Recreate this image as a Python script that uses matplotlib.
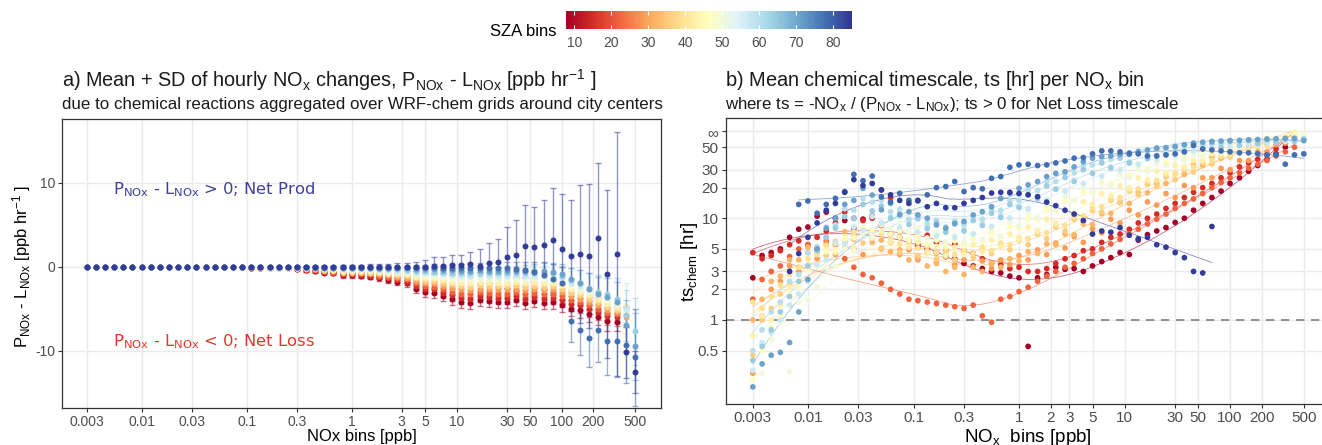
import numpy as np
import matplotlib
matplotlib.use("Agg")
import matplotlib.pyplot as plt
from matplotlib import cm, colors
from numpy import nan

plt.rcParams["font.family"] = ["Liberation Sans Narrow", "Liberation Sans", "DejaVu Sans"]
plt.rcParams["mathtext.fontset"] = "custom"
plt.rcParams["mathtext.rm"] = "Liberation Sans"
plt.rcParams["mathtext.it"] = "Liberation Sans:italic"
plt.rcParams["mathtext.bf"] = "Liberation Sans:bold"
plt.rcParams["mathtext.default"] = "regular"

# NOx bin centres [ppb]
nox_bins = [0.003, 0.00367, 0.00448, 0.00547, 0.00669, 0.00817, 0.00998, 0.0122, 0.0149, 0.0182,
            0.0223, 0.0272, 0.0332, 0.0406, 0.0496, 0.0606, 0.0740, 0.0904, 0.110, 0.135,
            0.165, 0.202, 0.246, 0.301, 0.368, 0.449, 0.549, 0.671, 0.819, 1.00,
            1.22, 1.50, 1.83, 2.23, 2.73, 3.33, 4.07, 4.97, 6.08, 7.42,
            9.07, 11.1, 13.5, 16.5, 20.2, 24.7, 30.2, 36.9, 45.1, 55.1,
            67.3, 82.2, 100, 123, 150, 183, 224, 273, 334, 408, 500]

sza_bins = [8, 15, 22, 29, 36, 43, 50, 57, 64, 71, 78, 84]
sza_ts_bins = [8, 15, 22, 29, 32, 36, 39, 43, 46, 50, 57, 60, 64, 71, 78, 84]

# mean P-L [ppb/hr], bins 18..61 (first 17 bins are 0)
pl_08 = [0.0, -0.1, -0.1, -0.2, -0.2, -0.2, -0.3, -0.4, -0.5, -0.7, -0.8, -1.0, -1.0, -1.1, -1.2, -1.4, -1.6, -1.8, -2.0,
         -2.6, -3.0, -3.1, -3.5, -3.9, -4.2, -4.3, -4.0, -4.1, -4.2, -4.2, -4.0, -4.3, -4.1, -4.3, -4.2,
         -4.6, -5.0, -5.2, -5.6, -6.0, -6.5, -6.6, nan, nan]
pl_15 = [0.0, -0.1, -0.1, -0.2, -0.2, -0.2, -0.3, -0.4, -0.4, -0.6, -0.7, -0.9, -0.9, -1.0, -1.1, -1.2, -1.4, -1.6, -1.8,
         -2.3, -2.6, -2.7, -3.1, -3.4, -3.7, -3.8, -3.5, -3.6, -3.7, -3.7, -3.5, -3.8, -3.6, -3.8, -3.7,
         -4.0, -4.4, -4.6, -5.0, -5.4, -5.9, -6.0, nan, nan]
pl_22 = [0.0, -0.1, -0.1, -0.2, -0.2, -0.2, -0.2, -0.3, -0.4, -0.5, -0.6, -0.8, -0.8, -0.8, -0.9, -1.1, -1.2, -1.4, -1.5,
         -2.0, -2.3, -2.4, -2.7, -3.0, -3.2, -3.3, -3.0, -3.1, -3.2, -3.2, -3.0, -3.3, -3.1, -3.3, -3.2,
         -3.5, -4.0, -4.2, -4.6, -5.0, -5.5, -5.6, nan, nan]
pl_29 = [0.0, -0.1, -0.1, -0.1, -0.1, -0.1, -0.2, -0.3, -0.3, -0.5, -0.5, -0.7, -0.7, -0.7, -0.8, -0.9, -1.0, -1.2, -1.3,
         -1.7, -2.0, -2.0, -2.3, -2.5, -2.7, -2.8, -2.6, -2.7, -2.7, -2.7, -2.6, -2.8, -2.7, -2.8, -2.7,
         -3.0, -3.5, -3.8, -4.2, -4.6, -5.2, -5.4, -6.0, nan]
pl_36 = [0.0, 0.0, -0.1, -0.1, -0.1, -0.1, -0.2, -0.2, -0.3, -0.4, -0.4, -0.6, -0.6, -0.6, -0.7, -0.8, -0.9, -1.0, -1.1,
         -1.4, -1.7, -1.7, -1.9, -2.1, -2.3, -2.4, -2.2, -2.3, -2.3, -2.3, -2.2, -2.4, -2.3, -2.4, -2.3,
         -2.6, -3.1, -3.4, -3.8, -4.2, -4.8, -5.1, -5.8, nan]
pl_43 = [0.0, 0.0, 0.0, -0.1, -0.1, -0.1, -0.1, -0.2, -0.2, -0.3, -0.4, -0.5, -0.5, -0.5, -0.5, -0.6, -0.7, -0.8, -0.9,
         -1.2, -1.4, -1.4, -1.6, -1.8, -1.9, -1.9, -1.8, -1.8, -1.9, -1.9, -1.8, -1.9, -1.8, -1.9, -1.9,
         -2.2, -2.7, -3.0, -3.4, -3.8, -4.4, -4.8, -5.6, nan]
pl_50 = [0.0, 0.0, 0.0, -0.1, -0.1, -0.1, -0.1, -0.1, -0.2, -0.2, -0.3, -0.4, -0.4, -0.4, -0.4, -0.5, -0.6, -0.6, -0.7,
         -0.9, -1.1, -1.1, -1.2, -1.4, -1.5, -1.5, -1.4, -1.4, -1.5, -1.5, -1.4, -1.5, -1.4, -1.5, -1.5,
         -1.8, -2.3, -2.6, -3.0, -3.3, -4.0, -4.4, -5.2, nan]
pl_57 = [0.0, 0.0, 0.0, -0.1, -0.1, 0.0, -0.1, -0.1, -0.1, -0.2, -0.2, -0.3, -0.3, -0.3, -0.3, -0.4, -0.4, -0.5, -0.5,
         -0.7, -0.8, -0.8, -0.9, -1.0, -1.1, -1.1, -1.0, -1.1, -1.1, -1.1, -1.0, -1.1, -1.1, -1.1, -1.1,
         -1.4, -1.9, -2.3, -2.7, -3.1, -3.6, -4.0, -5.0, nan]
pl_64 = [0.0, 0.0, 0.0, 0.0, 0.0, 0.0, 0.0, -0.1, -0.1, -0.1, -0.1, -0.2, -0.2, -0.2, -0.2, -0.3, -0.3, -0.3, -0.4,
         -0.5, -0.5, -0.6, -0.6, -0.7, -0.8, -0.8, -0.7, -0.7, -0.8, -0.8, -0.7, -0.8, -0.7, -0.8, -0.8,
         -1.1, -1.6, -2.0, -2.5, -3.0, -3.3, -3.8, -5.8, -7.7]
pl_71 = [0.0, 0.0, 0.0, 0.0, 0.0, 0.0, 0.0, 0.0, -0.1, -0.1, -0.1, -0.1, -0.1, -0.1, -0.1, -0.2, -0.2, -0.2, -0.2,
         -0.3, -0.3, -0.3, -0.4, -0.4, -0.5, -0.5, -0.4, -0.5, -0.5, -0.5, -0.5, -0.5, -0.5, -0.5, -0.6,
         -0.9, -1.5, -2.0, -2.6, -3.2, -3.6, -4.2, -7.0, -9.5]
pl_78 = [0.0, 0.0, 0.0, 0.0, 0.0, 0.0, 0.0, 0.0, 0.0, 0.0, 0.0, 0.0, 0.0, 0.0, 0.0, 0.0, 0.0, 0.0, 0.0,
         0.0, 0.0, 0.0, -0.1, -0.1, -0.1, -0.1, -0.1, -0.2, -0.2, -0.2, -0.3, -0.4, -0.6, -1.0, -1.5,
         -2.0, -6.5, -7.5, -8.5, -7.5, -8.9, -8.9, -9.3, -10.8]
pl_84 = [0.0, 0.0, 0.0, 0.0, 0.0, 0.0, 0.0, 0.0, 0.0, 0.0, 0.0, 0.0, 0.0, 0.0, 0.0, 0.0, 0.0, 0.0, 0.0,
         0.0, 0.0, 0.1, 0.1, 0.2, 0.2, 0.3, 0.1, 0.4, 0.5, 1.1, 1.4, 2.5, 2.3, 2.6, 3.2,
         2.1, 1.3, 1.5, 1.3, 3.4, -0.9, 1.5, -10.2, -12.5]

# SD of P-L, bins 18..61
sd_warm = [0.0, 0.1, 0.1, 0.1, 0.1, 0.1, 0.1, 0.2, 0.2, 0.2, 0.2, 0.3, 0.3, 0.3, 0.3, 0.3, 0.4, 0.4, 0.4,
           0.5, 0.6, 0.6, 0.6, 0.7, 0.7, 0.7, 0.7, 0.7, 0.7, 0.7, 0.7, 0.7, 0.7, 0.7, 0.8,
           0.8, 0.9, 0.9, 1.0, 1.0, 1.1, 1.1, 1.2, 1.2]
sd_cool = [0.0, 0.0, 0.0, 0.0, 0.0, 0.0, 0.0, 0.1, 0.1, 0.1, 0.1, 0.1, 0.1, 0.1, 0.1, 0.1, 0.1, 0.1, 0.1,
           0.2, 0.2, 0.3, 0.3, 0.3, 0.3, 0.4, 0.4, 0.5, 0.5, 0.6, 0.6, 0.7, 0.8, 0.9, 1.0,
           1.2, 1.4, 1.6, 1.8, 2.0, 2.2, 2.4, 3.0, 4.0]
sd_78 = [0.0, 0.0, 0.0, 0.0, 0.0, 0.0, 0.0, 0.1, 0.1, 0.1, 0.1, 0.1, 0.1, 0.1, 0.1, 0.1, 0.1, 0.1, 0.1,
         0.2, 0.2, 0.3, 0.3, 0.4, 0.4, 0.5, 0.5, 0.6, 0.7, 0.8, 0.9, 1.0, 1.2, 1.5, 1.8,
         2.0, 2.5, 3.0, 3.5, 3.8, 4.0, 4.2, 4.5, 5.8]
sd_84 = [0.0, 0.0, 0.0, 0.0, 0.0, 0.1, 0.1, 0.1, 0.1, 0.1, 0.1, 0.2, 0.2, 0.2, 0.3, 0.3, 0.3, 0.4, 0.4,
         0.5, 0.8, 1.0, 1.0, 1.2, 1.2, 1.4, 2.0, 2.4, 2.8, 3.6, 4.2, 4.8, 4.8, 5.3, 6.2,
         6.5, 6.6, 8.2, 8.6, 9.0, 10.0, 14.5, 3.0, 2.5]

# chemical timescale ts [hr], all 61 bins
ts_08 = [2.6, 4.3, 4.6, 5.0, 6.5, 7.8, 8.2, 10.5, 11.5, 10.0,
         9.5, 8.0, 9.8, 10.5, 8.5, 7.0, 6.5, 6.0, 5.2, 5.0,
         4.6, 4.2, 4.0, 3.6, 3.4, 3.2, 3.0, 2.9, 2.7, 2.6,
         0.55, 2.6, 2.8, 3.3, 3.15, 3.2, 3.0, 3.4, 3.75, 4.1,
         4.6, 4.4, 6.1, 6.9, 7.5, 8.1, 9.1, 10.0, 12.0, 14.0,
         16.0, 18.5, 22.0, 25.0, 29.0, 33.0, 38.0, 43.0, 50.0, nan, nan]
ts_15 = [4.6, 4.0, 4.3, 4.8, 5.5, 6.0, 5.5, 6.5, 7.5, 9.0,
         11.5, 10.0, 9.5, 10.0, 19.0, 16.0, 7.5, 6.0, 5.5, 6.8,
         5.8, 4.9, 5.6, 4.8, 4.5, 4.0, 3.6, 3.5, 3.2, 3.3,
         3.0, 3.0, 3.2, 3.6, 4.0, 4.3, 4.8, 5.0, 5.8, 6.5,
         7.0, 7.8, 9.0, 10.0, 11.0, 12.5, 14.0, 16.0, 18.0, 20.0,
         22.0, 25.0, 28.0, 32.0, 35.0, 38.0, 42.0, 48.0, 55.0, 60.0, nan]
ts_22 = [1.6, 2.5, 3.0, 3.4, 4.2, 5.0, 5.5, 5.0, 6.0, 5.5,
         4.0, 3.3, 2.8, 2.6, 2.3, 2.0, 1.8, 1.6, 1.55, 1.5,
         1.45, 1.4, 1.35, 1.3, 1.4, 1.1, 0.95, 1.6, 1.7, 1.9,
         2.1, 2.4, 2.7, 3.0, 3.3, 3.6, 4.0, 4.5, 5.0, 5.6,
         6.2, 7.0, 7.8, 8.8, 9.8, 11.0, 12.5, 14.0, 15.5, 17.5,
         20.0, 22.5, 25.0, 28.0, 31.0, 34.0, 37.0, 41.0, 45.0, 50.0, nan]
ts_29 = [0.3, 1.1, 2.0, 2.4, 3.4, 3.0, 4.6, 4.0, 5.6, 4.4,
         5.8, 5.0, 4.4, 6.4, 5.0, 5.8, 4.4, 4.9, 3.9, 4.6,
         3.7, 4.2, 3.5, 3.9, 3.3, 3.8, 3.2, 3.9, 3.5, 4.3,
         3.9, 4.9, 4.4, 5.7, 5.1, 6.6, 5.8, 7.9, 7.2, 9.8,
         9.0, 12.0, 10.8, 14.5, 13.5, 17.5, 16.0, 21.0, 20.0, 25.0,
         25.0, 31.0, 30.0, 37.0, 37.0, 45.0, 45.0, 53.0, 55.0, 62.0, nan]
ts_32 = [1.0, 1.6, 2.4, 2.7, 3.9, 3.9, 5.2, 4.9, 6.4, 5.9,
         7.4, 6.2, 7.8, 5.8, 6.1, 4.7, 4.9, 3.9, 4.1, 3.4,
         3.6, 3.0, 3.3, 2.8, 3.3, 3.0, 3.6, 3.3, 4.0, 3.8,
         4.7, 4.5, 5.6, 5.5, 7.0, 6.9, 8.8, 8.7, 11.1, 11.2,
         14.3, 14.0, 18.0, 17.8, 22.0, 22.0, 27.5, 27.0, 33.5, 33.0,
         40.0, 39.0, 46.0, 45.0, 52.0, 51.0, 58.0, 57.0, 63.0, 65.0, nan]
ts_36 = [0.45, 1.0, 1.3, 1.8, 2.2, 3.3, 3.2, 4.6, 4.3, 5.8,
         5.2, 6.6, 5.7, 6.6, 5.1, 5.8, 4.6, 5.2, 4.3, 4.8,
         4.0, 4.6, 3.9, 4.7, 4.1, 5.0, 4.5, 5.4, 4.9, 6.1,
         5.5, 7.0, 6.3, 8.2, 7.5, 9.8, 9.2, 12.0, 11.5, 15.0,
         14.3, 18.5, 17.0, 21.5, 20.5, 25.5, 24.0, 30.0, 28.5, 35.0,
         34.0, 41.0, 40.0, 47.0, 46.0, 54.0, 54.0, 61.0, 62.0, 68.0, nan]
ts_39 = [1.5, 1.3, 1.7, 2.2, 2.8, 3.3, 4.0, 4.4, 5.4, 5.6,
         6.5, 7.3, 8.0, 7.6, 7.0, 6.2, 5.6, 5.9, 5.1, 5.3,
         4.6, 5.0, 4.4, 4.9, 4.5, 5.2, 4.8, 5.7, 5.5, 6.4,
         6.3, 7.3, 7.2, 8.6, 8.5, 10.3, 10.5, 12.6, 13.0, 15.5,
         16.0, 19.0, 19.5, 23.0, 23.5, 27.0, 27.5, 31.0, 32.0, 36.0,
         37.0, 41.0, 42.0, 46.0, 47.0, 51.0, 52.0, 56.0, 58.0, 62.0, nan]
ts_43 = [0.7, 1.1, 1.0, 1.4, 2.1, 2.4, 3.5, 3.5, 4.9, 4.6,
         6.1, 5.2, 7.1, 6.4, 7.4, 5.9, 6.5, 5.2, 5.8, 4.6,
         5.3, 4.3, 5.2, 4.4, 5.5, 4.7, 6.1, 5.2, 7.0, 6.2,
         8.2, 7.5, 9.8, 9.0, 12.0, 11.0, 14.5, 13.8, 17.5, 16.8,
         21.0, 20.0, 25.0, 24.0, 29.0, 28.0, 33.0, 32.0, 37.0, 37.0,
         43.0, 43.0, 49.0, 49.0, 55.0, 55.0, 61.0, 61.0, 66.0, 70.0, nan]
ts_46 = [0.26, 0.5, 0.85, 1.1, 1.8, 2.1, 3.1, 3.4, 4.7, 4.9,
         6.4, 6.4, 8.0, 7.7, 8.6, 7.0, 7.5, 6.1, 6.6, 5.6,
         6.1, 5.3, 6.0, 5.4, 6.3, 5.9, 7.1, 6.7, 8.3, 8.0,
         9.9, 9.7, 12.1, 11.9, 15.0, 14.8, 18.2, 18.0, 22.5, 22.0,
         27.0, 26.2, 32.0, 31.0, 37.0, 36.0, 42.0, 41.0, 46.0, 45.0,
         50.0, 49.0, 54.0, 53.0, 58.0, 57.0, 62.0, 61.0, 65.0, 66.0, 67.0]
ts_50 = [0.22, 0.3, 0.65, 0.95, 0.31, 1.5, 1.6, 2.1, 3.3, 3.4,
         5.0, 4.8, 7.2, 6.6, 9.3, 8.0, 9.2, 7.2, 8.1, 6.4,
         7.2, 5.8, 6.8, 5.8, 7.1, 6.2, 7.9, 6.7, 9.3, 8.4,
         11.2, 10.1, 13.4, 12.2, 16.5, 15.0, 19.6, 18.0, 23.0, 21.0,
         27.0, 25.0, 31.0, 29.0, 35.0, 33.0, 39.0, 37.0, 43.0, 41.0,
         47.0, 45.0, 51.0, 49.0, 55.0, 53.0, 59.0, 57.0, 63.0, 61.0, 65.0]
ts_57 = [0.32, 0.6, 0.75, 1.0, 1.4, 1.8, 2.4, 3.5, 3.9, 5.8,
         5.6, 8.2, 7.6, 10.4, 9.0, 10.4, 8.2, 9.3, 7.3, 8.3,
         6.7, 7.6, 6.5, 7.8, 7.0, 8.9, 8.3, 10.8, 10.1, 13.0,
         12.4, 16.2, 15.2, 19.4, 18.4, 23.8, 22.0, 28.0, 26.0, 32.0,
         30.0, 36.0, 34.0, 40.0, 38.0, 44.0, 42.0, 48.0, 46.0, 52.0,
         49.0, 54.0, 51.0, 56.0, 53.0, 58.0, 55.0, 60.0, 57.0, 62.0, 59.0]
ts_60 = [0.5, 0.8, 1.2, 1.5, 2.4, 2.8, 4.6, 5.3, 8.2, 8.6,
         12.4, 12.0, 15.6, 14.4, 15.0, 11.6, 12.3, 9.8, 10.6, 8.9,
         9.6, 8.2, 9.4, 8.7, 10.4, 9.8, 12.2, 12.0, 15.0, 15.0,
         18.8, 18.8, 23.0, 23.0, 28.0, 28.0, 33.0, 33.5, 38.0, 38.0,
         42.0, 42.0, 46.0, 45.5, 49.0, 48.5, 52.0, 51.0, 54.0, 53.0,
         56.0, 55.0, 57.0, 56.0, 58.0, 57.0, 59.0, 58.0, 60.0, 59.0, 60.0]
ts_64 = [0.4, 0.55, 0.8, 1.2, 1.7, 2.4, 3.4, 4.8, 6.5, 8.0,
         10.4, 10.0, 13.7, 11.8, 13.2, 10.0, 11.0, 8.7, 9.9, 7.9,
         9.1, 7.3, 8.8, 7.5, 9.5, 8.5, 11.2, 10.2, 13.7, 12.8,
         17.0, 15.6, 20.8, 19.3, 25.2, 23.0, 30.0, 27.6, 35.0, 31.3,
         39.0, 35.0, 43.5, 38.6, 47.5, 42.0, 50.5, 45.0, 53.0, 48.0,
         55.0, 50.0, 57.0, 52.0, 59.0, 54.0, 60.0, 56.0, 61.0, 57.0, 60.0]
ts_71 = [0.22, 0.37, 0.45, 0.48, 0.6, 1.2, 2.5, 5.0, 8.0, 10.0,
         13.7, 15.0, 19.7, 16.9, 12.1, 14.0, 10.8, 11.6, 10.8, 10.0,
         8.6, 8.0, 8.9, 9.3, 10.8, 11.6, 13.0, 15.7, 17.6, 19.7,
         21.3, 23.0, 25.7, 27.6, 28.7, 32.0, 36.0, 39.0, 40.5, 41.0,
         42.5, 44.0, 45.0, 47.0, 49.0, 49.5, 50.5, 53.0, 55.0, 56.0,
         57.0, 57.5, 58.0, 58.5, 59.0, 59.5, 60.0, 60.5, 61.0, 61.0, 58.0]
ts_78 = [nan, nan, nan, nan, nan, 13.7, 14.8, 11.2, 13.7, 15.7,
         18.3, 27.0, 23.4, 26.0, 16.2, 14.5, 17.6, 15.0, 14.8, 17.0,
         20.0, 20.5, 23.0, 18.3, 20.0, 19.5, 24.7, 25.7, 31.7, 33.5,
         34.0, 33.0, 33.5, 35.0, 36.6, 39.0, 39.5, 43.0, 46.0, 46.0,
         45.0, 43.0, 43.0, 41.0, 41.0, 42.0, 43.0, 45.0, 52.0, 48.0,
         47.0, 46.0, 45.0, 44.0, 44.0, 43.0, 42.0, 42.0, 34.0, 42.0, 43.0]
ts_84 = [nan, nan, nan, nan, 3.0, 4.5, 6.5, 9.0, 12.0, 14.0,
         18.0, 24.0, 21.0, 22.0, 19.0, 17.0, 15.0, 14.0, 15.0, 13.0,
         14.0, 12.7, 12.7, 14.0, 15.0, 16.0, 17.7, 18.0, 18.0, 17.5,
         17.0, 16.3, 14.4, 13.3, 12.0, 11.0, 9.5, 7.0, 7.5, 7.3,
         8.1, 6.8, 6.3, 6.5, 5.5, 5.2, 4.6, 4.1, 3.0, 2.9,
         8.3, nan, nan, nan, nan, nan, nan, nan, nan, nan, nan]

pl_means = [pl_08, pl_15, pl_22, pl_29, pl_36, pl_43, pl_50, pl_57, pl_64, pl_71, pl_78, pl_84]
pl_sds = [sd_warm] * 6 + [sd_cool] * 4 + [sd_78, sd_84]
ts_all = [ts_08, ts_15, ts_22, ts_29, ts_32, ts_36, ts_39, ts_43, ts_46, ts_50,
          ts_57, ts_60, ts_64, ts_71, ts_78, ts_84]

W, H = 1322, 445
GRID = "#EBEBEB"
TICKC = "#4D4D4D"
EDGE = "#333333"

cmap = plt.get_cmap("RdYlBu")
norm = colors.Normalize(vmin=7.75, vmax=85)
x = np.array(nox_bins)


def loess(lx, ly, span=0.75, n=150):
    # local quadratic fit with tricube weights (like geom_smooth's loess)
    xs = np.linspace(lx.min(), lx.max(), n)
    q = max(int(np.ceil(span * len(lx))), 4)
    ys = []
    for x0 in xs:
        d = np.abs(lx - x0)
        h = np.sort(d)[q - 1] * 1.0001
        w = np.clip(1 - (d / h) ** 3, 0, None) ** 3
        p = np.polyfit(lx, ly, 2, w=np.sqrt(w))
        ys.append(np.polyval(p, x0))
    return xs, np.array(ys)


def style_axes(ax, xt, xtl, yt, ytl, size):
    ax.set_xscale("log")
    ax.set_xticks(xt)
    ax.set_xticklabels(xtl)
    ax.set_yticks(yt)
    ax.set_yticklabels(ytl)
    ax.minorticks_off()
    ax.grid(True, color=GRID, lw=1.0)
    ax.set_axisbelow(True)
    for s in ax.spines.values():
        s.set_color(EDGE)
        s.set_linewidth(0.9)
    ax.tick_params(length=3, width=0.8, color=EDGE, labelcolor=TICKC, labelsize=size, pad=2)


fig = plt.figure(figsize=(W / 100, H / 100), dpi=100)

# ---- a) P - L panel
ax1 = fig.add_axes([62 / W, 1 - 408.3 / H, 599 / W, 289 / H])
for i, sza in enumerate(sza_bins):
    c = cmap(norm(sza))
    m = np.array([0.0] * 17 + pl_means[i])
    sd = np.array([0.0] * 17 + pl_sds[i])
    ax1.errorbar(x, m, yerr=sd, fmt="none", ecolor=c, alpha=0.55, elinewidth=1.0,
                 capsize=2.3, capthick=1.0, zorder=2)
for i, sza in enumerate(sza_bins):
    c = cmap(norm(sza))
    m = np.array([0.0] * 17 + pl_means[i])
    ax1.plot(x, m, "o", color=c, ms=4.3, mec="none", zorder=3)
ax1.set_xlim(10 ** -2.759, 10 ** 2.946)
ax1.set_ylim(-16.86, 17.55)
lt = [0.003, 0.01, 0.03, 0.1, 0.3, 1, 3, 5, 10, 30, 50, 100, 200, 500]
style_axes(ax1, lt, ["0.003", "0.01", "0.03", "0.1", "0.3", "1", "3", "5", "10", "30", "50", "100", "200", "500"],
           [-10, 0, 10], ["-10", "0", "10"], 10)
for lab in ax1.get_xticklabels() + ax1.get_yticklabels():
    lab.set_family("Liberation Sans")

fig.text(113 / W, 1 - 190 / H, r"P$_{NOx}$ - L$_{NOx}$ > 0; Net Prod", color="#3F3F9F",
         fontsize=11.8, family="DejaVu Sans", math_fontfamily="dejavusans", va="center")
fig.text(113 / W, 1 - 342 / H, r"P$_{NOx}$ - L$_{NOx}$ < 0; Net Loss", color="#E0382C",
         fontsize=11.8, family="DejaVu Sans", math_fontfamily="dejavusans", va="center")

fig.text(62 / W, 1 - 80 / H, r"a) Mean + SD of hourly NO$_x$ changes, P$_{NOx}$ - L$_{NOx}$ [ppb hr$^{-1}$ ]",
         fontsize=14.3, va="center", color="#1a1a1a")
fig.text(62 / W, 1 - 104 / H, "due to chemical reactions aggregated over WRF-chem grids around city centers",
         fontsize=12.2, va="center", color="#1a1a1a")
fig.text(22 / W, 1 - 266 / H, r"P$_{NOx}$ - L$_{NOx}$ [ppb hr$^{-1}$ ]", rotation=90,
         fontsize=12, family="Liberation Sans", ha="center", va="center")
fig.text(361.5 / W, 1 - 437 / H, "NOx bins [ppb]", fontsize=12, family="Liberation Sans",
         ha="center", va="center")

# ---- b) timescale panel
ax2 = fig.add_axes([725.5 / W, 1 - 404.3 / H, 605.5 / W, 286 / H])
ax2.set_yscale("log")
for i, sza in enumerate(sza_ts_bins):
    c = cmap(norm(sza))
    t = np.array(ts_all[i])
    ok = ~np.isnan(t)
    ax2.scatter(x[ok], t[ok], s=17, color=c, edgecolors="none", zorder=3)
    xs, ys = loess(np.log10(x[ok]), np.log10(t[ok]))
    ax2.plot(10 ** xs, 10 ** ys, color=c, lw=0.6, alpha=0.6, zorder=2)
ax2.axhline(1, color="#7F7F7F", lw=1.2, ls=(0, (5, 4)), zorder=2.5)
ax2.set_xlim(10 ** -2.782, 10 ** 2.957)
ax2.set_ylim(10 ** -0.829, 10 ** 1.983)
rt = [0.003, 0.01, 0.03, 0.1, 0.3, 1, 2, 3, 5, 10, 30, 50, 100, 200, 500]
style_axes(ax2, rt, ["0.003", "0.01", "0.03", "0.1", "0.3", "1", "2", "3", "5", "10", "30", "50", "100", "200", "500"],
           [0.5, 1, 2, 3, 5, 10, 20, 30, 50, 72], ["0.5", "1", "2", "3", "5", "10", "20", "30", "50", "\u221e"], 11)

fig.text(725 / W, 1 - 80 / H, r"b) Mean chemical timescale, ts [hr] per NO$_x$ bin",
         fontsize=14.4, va="center", color="#1a1a1a")
fig.text(725 / W, 1 - 104 / H, r"where ts = -NO$_x$ / (P$_{NOx}$ - L$_{NOx}$); ts > 0 for Net Loss timescale",
         fontsize=12.2, va="center", color="#1a1a1a")
fig.text(690 / W, 1 - 262 / H, r"ts$_{chem}$ [hr]", rotation=90, fontsize=13.5, ha="center", va="center")
fig.text(1028 / W, 1 - 437 / H, r"NO$_x$  bins [ppb]", fontsize=13.5, ha="center", va="center")

# ---- colour bar
cax = fig.add_axes([566 / W, 1 - 29 / H, 285.7 / W, 18 / H])
sm = cm.ScalarMappable(norm=norm, cmap=cmap)
cb = fig.colorbar(sm, cax=cax, orientation="horizontal")
cb.set_ticks([10, 20, 30, 40, 50, 60, 70, 80])
cb.outline.set_visible(False)
cax.xaxis.set_ticks_position("both")
cax.tick_params(axis="x", direction="in", color="white", length=3, width=0.8,
                labelsize=10, labelcolor=TICKC, pad=5)
for lab in cax.get_xticklabels():
    lab.set_family("Liberation Sans")
fig.text(557 / W, 1 - 31 / H, "SZA bins", fontsize=12, family="Liberation Sans", ha="right", va="center")

fig.savefig("out.png", dpi=100)
